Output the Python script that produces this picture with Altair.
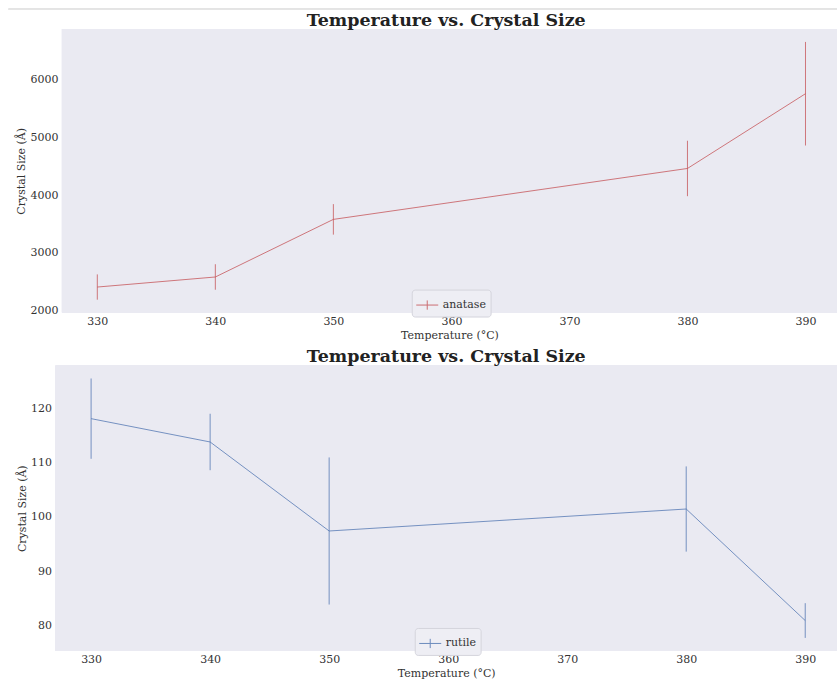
import altair as alt
import pandas as pd

# Annealing temperature (°C) and measured crystallite sizes (Å) with their errors
temperature = [330, 340, 350, 380, 390]
anatase_size = [2409, 2583, 3581, 4463, 5758]
anatase_err = [219, 221, 264, 480, 897]
rutile_size = [118.1, 113.8, 97.4, 101.45, 80.9]
rutile_err = [7.4, 5.2, 13.55, 7.85, 3.2]

FONT = "DejaVu Serif"
TEXT = "#333333"
PANEL_BG = "#EAEAF2"
WIDTH = 783
X_DOMAIN = [327, 392.67]


def make_frame(sizes, errs, phase):
    return pd.DataFrame({
        "temperature": temperature,
        "size": sizes,
        "lo": [s - e for s, e in zip(sizes, errs)],
        "hi": [s + e for s, e in zip(sizes, errs)],
        "phase": phase,
    })


def panel(df, phase, color, ydomain, yticks, height, lx, ly, inset=0,
          separator=False):
    # `inset` narrows the shaded plotting area from the left edge
    x = alt.X(
        "temperature:Q",
        scale=alt.Scale(domain=X_DOMAIN, nice=False, zero=False,
                        range=[inset, WIDTH]),
        axis=alt.Axis(values=[330, 340, 350, 360, 370, 380, 390],
                      format="d", title="Temperature (°C)"),
    )
    y = alt.Y(
        "size:Q",
        scale=alt.Scale(domain=ydomain, nice=False, zero=False),
        axis=alt.Axis(values=yticks, format="d", title="Crystal Size (Å)",
                      offset=-inset),
    )
    colour = alt.Color(
        "phase:N",
        scale=alt.Scale(domain=[phase], range=[color]),
        legend=alt.Legend(
            title=None, orient="none", legendX=lx, legendY=ly,
            symbolType="M-1,0H1M0,-0.42V0.42", symbolSize=484,
            symbolStrokeWidth=1, symbolOpacity=0.8,
            fillColor="#EEEEF4", strokeColor="#D4D4DC", cornerRadius=3,
            padding=4, labelFont=FONT, labelFontSize=11, labelColor=TEXT,
        ),
    )
    base = alt.Chart(df)
    backdrop = base.mark_rect(color=PANEL_BG).encode(
        x=alt.value(inset), x2=alt.value(WIDTH),
        y=alt.value(0), y2=alt.value(height),
    )
    line = base.mark_line(strokeWidth=1, opacity=0.75).encode(x=x, y=y, color=colour)
    bars = base.mark_rule(strokeWidth=1, opacity=0.75).encode(
        x="temperature:Q", y="lo:Q", y2="hi:Q", color=colour
    )
    layers = [backdrop, line, bars]
    title_offset = 0
    if separator:
        # thin separator line above the first figure; the title sits below it
        layers.append(base.mark_rule(color="#E4E4E4", strokeWidth=1).encode(
            x=alt.value(-47), x2=alt.value(WIDTH), y=alt.value(-20)))
        title_offset = -21
    return alt.layer(*layers).properties(
        width=WIDTH, height=height,
        title=alt.TitleParams(
            "Temperature vs. Crystal Size", font=FONT, fontSize=17.5,
            fontWeight="bold", color="#222222", anchor="middle",
            frame="group", offset=title_offset,
        ),
    )


top = panel(make_frame(anatase_size, anatase_err, "anatase"), "anatase",
            "#C44E52", [1967, 6878], [2000, 3000, 4000, 5000, 6000],
            284, 357, 261, inset=6.5, separator=True)
bottom = panel(make_frame(rutile_size, rutile_err, "rutile"), "rutile",
               "#4C72B0", [75.3, 127.9], [80, 90, 100, 110, 120],
               286, 360, 263)

chart = alt.vconcat(top, bottom, spacing=7).resolve_scale(
    color="independent"
).resolve_legend(
    color="independent"
).configure(
    padding={"left": 7.5, "top": 7.5, "right": 0, "bottom": 0},
).configure_view(
    fill=None, stroke=None,
).configure_axis(
    domain=False, ticks=False, grid=True, gridColor="white", gridWidth=1,
    labelFont=FONT, labelFontSize=11, labelColor=TEXT, labelPadding=4,
    titleFont=FONT, titleFontSize=11, titleFontWeight="normal",
    titleColor=TEXT, titlePadding=3,
).configure_axisX(
    labelPadding=3,
)

chart.save("out.html", embed_options={"renderer": "svg", "actions": False})
